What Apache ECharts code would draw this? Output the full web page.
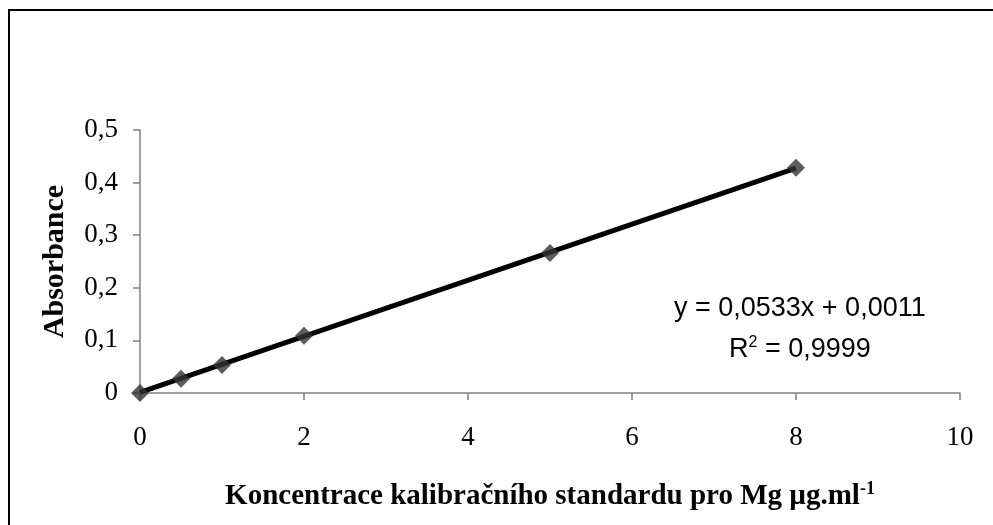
<!DOCTYPE html>
<html><head><meta charset="utf-8">
<script src="https://cdn.jsdelivr.net/npm/echarts@6/dist/echarts.min.js"></script>
<style>html,body{margin:0;padding:0;background:#fff}#c{width:993px;height:525px}</style>
</head><body><div id="c"></div>
<script>
const concentrations = [0, 0.5, 1, 2, 5, 8];
const absorbances = [0, 0.027, 0.053, 0.109, 0.266, 0.428];
const xTicks = [0, 2, 4, 6, 8, 10];
const yTicks = [0, 0.1, 0.2, 0.3, 0.4, 0.5];
const slope = 0.0533;
const intercept = 0.0011;
const equationText = 'y = 0,0533x + 0,0011';
const r2Text = ' = 0,9999';

const fmt = v => String(Math.round(v * 10) / 10).replace('.', ',');
const xMaxData = Math.max(...concentrations);
const trend = [[0, intercept + slope * 0], [xMaxData, intercept + slope * xMaxData]];

const chart = echarts.init(document.getElementById('c'));
const serif = 'Liberation Serif';
chart.setOption({
  animation: false,
  backgroundColor: '#fff',
  grid: {left: 140, right: 33, top: 130, bottom: 132},
  xAxis: {
    type: 'value', min: xTicks[0], max: xTicks[xTicks.length - 1], interval: 2,
    axisLine: {lineStyle: {color: '#808080', width: 1.5}},
    axisTick: {show: true, length: 7, lineStyle: {color: '#808080', width: 1.5}},
    splitLine: {show: false},
    axisLabel: {color: '#000', fontFamily: serif, fontSize: 27, margin: 31, formatter: fmt},
    name: '{t|Koncentrace kalibračního standardu pro Mg µg.ml}{s|-1}',
    nameLocation: 'middle', nameGap: 87,
    nameTextStyle: {
      rich: {
        t: {fontFamily: serif, fontWeight: 'bold', fontSize: 29, color: '#000'},
        s: {fontFamily: serif, fontWeight: 'bold', fontSize: 18, color: '#000', verticalAlign: 'top', padding: [0, 0, 16, 0]}
      }
    }
  },
  yAxis: {
    type: 'value', min: yTicks[0], max: yTicks[yTicks.length - 1], interval: 0.1,
    axisLine: {show: true, lineStyle: {color: '#808080', width: 1.5}},
    axisTick: {show: true, length: 7, lineStyle: {color: '#808080', width: 1.5}},
    splitLine: {show: false},
    axisLabel: {color: '#000', fontFamily: serif, fontSize: 27, margin: 22, formatter: fmt},
    name: 'Absorbance', nameLocation: 'middle', nameGap: 70,
    nameTextStyle: {fontFamily: serif, fontWeight: 'bold', fontSize: 30, color: '#000'}
  },
  series: [
    {
      type: 'line', data: trend, symbol: 'none', z: 2,
      lineStyle: {color: '#000', width: 5}
    },
    {
      type: 'scatter', z: 3,
      data: concentrations.map((x, i) => [x, absorbances[i]]),
      symbol: 'diamond', symbolSize: 18,
      itemStyle: {color: '#333333'}
    }
  ],
  graphic: [
    {
      type: 'rect', shape: {x: 9, y: 10, width: 1100, height: 700}, silent: true,
      style: {fill: 'none', stroke: '#000', lineWidth: 2}
    },
    {
      type: 'text', left: 674, top: 295,
      style: {text: equationText, font: '27px "Liberation Sans"', fill: '#000'}
    },
    {
      type: 'text', left: 729, top: 335,
      style: {
        text: '{r|R}{s|2}{r|' + r2Text + '}',
        rich: {
          r: {fontFamily: 'Liberation Sans', fontSize: 27, color: '#000'},
          s: {fontFamily: 'Liberation Sans', fontSize: 16, color: '#000', verticalAlign: 'top', padding: [0, 0, 14, 0]}
        }
      }
    }
  ]
});
</script>
</body></html>
